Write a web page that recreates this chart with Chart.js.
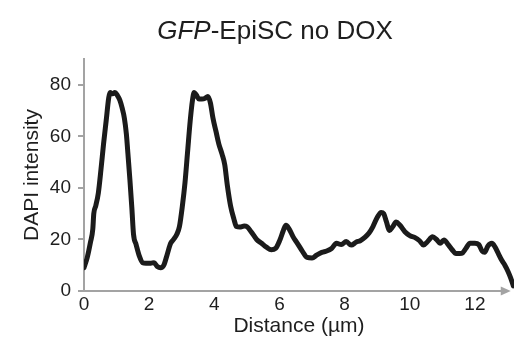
<!DOCTYPE html>
<html>
<head>
<meta charset="utf-8">
<script src="https://cdn.jsdelivr.net/npm/chart.js@4"></script>
<style>
  html, body { margin: 0; padding: 0; background: #fff; }
  #wrap { width: 516px; height: 345px; position: relative; }
</style>
</head>
<body>
<div id="wrap"><canvas id="profileChart"></canvas></div>
<script>
    // Line profile data
    const distance = [0, 0.1, 0.2, 0.27, 0.3, 0.36, 0.44, 0.52, 0.6, 0.68, 0.76, 0.8, 0.88, 0.95, 1.02, 1.1,
        1.17, 1.24, 1.3, 1.35, 1.41, 1.47, 1.52, 1.6, 1.7, 1.8, 1.9, 2.05, 2.15, 2.25, 2.35, 2.45, 2.55,
        2.66, 2.75, 2.85, 2.93, 3.02, 3.1, 3.18, 3.26, 3.33, 3.38, 3.45, 3.53, 3.62, 3.72, 3.8, 3.88, 3.96,
        4.05, 4.14, 4.24, 4.32, 4.4, 4.5, 4.6, 4.68, 4.78, 4.92, 5.0, 5.13, 5.3, 5.45, 5.6, 5.75, 5.88,
        6.02, 6.12, 6.2, 6.3, 6.42, 6.55, 6.7, 6.85, 7.0, 7.15, 7.3, 7.45, 7.6, 7.75, 7.9, 8.05, 8.2,
        8.36, 8.48, 8.62, 8.75, 8.87, 9.0, 9.12, 9.2, 9.28, 9.38, 9.48, 9.58, 9.7, 9.85, 10.0, 10.15,
        10.3, 10.42, 10.55, 10.7, 10.82, 10.93, 11.05, 11.18, 11.3, 11.42, 11.6, 11.72, 11.85, 12.0,
        12.12, 12.22, 12.3, 12.4, 12.52, 12.62, 12.72, 12.82, 12.92, 13.02, 13.1, 13.18];
    const intensity = [9, 13, 19, 24, 30, 33, 38, 47, 57, 66, 75, 77, 76.5, 77, 76, 74,
        71, 67, 61, 53, 43, 32, 22, 18, 13.5, 11, 10.8, 10.8, 11, 9.5, 9, 10, 14,
        18.5, 20, 22, 25, 33, 42, 54, 66, 74, 77, 76, 74.5, 74.5, 74.8, 75.5, 73, 67,
        62, 57, 53, 49, 41, 33, 28, 25, 24.8, 25.2, 25, 23, 20, 18.5, 17, 16, 16.5,
        20, 23.5, 25.5, 24, 21, 18.5, 15.5, 13, 12.8, 14, 15, 15.5, 16.5, 18.5, 18, 19.2, 17.8,
        19, 19.5, 20.8, 22.5, 25, 28.5, 30.5, 30, 27, 23.5, 25, 26.8, 25.5, 23, 21.5, 20.8,
        19.5, 17.8, 19.2, 21, 20, 18.5, 19.8, 18, 16, 14.5, 14.6, 16.5, 18.5, 18.5,
        18, 15.5, 15, 17.5, 18.5, 17, 14.5, 12, 10, 7.5, 5, 2];
    const yLabels = [0, 20, 40, 60, 80];

    const axisGray = '#a3a3a3';
    const textColor = '#1e1e1e';
    const fontFamily = 'Arial, "Liberation Sans", sans-serif';

    // Title with italic gene name, plus x axis drawn as an arrow
    const decorations = {
        id: 'decorations',
        beforeDatasetsDraw(chart) {
            const c = chart.ctx;
            const x = chart.scales.x;
            const y0 = chart.scales.y.getPixelForValue(0);
            const x0 = chart.chartArea.left - 1;
            const tip = x.getPixelForValue(13.1);
            c.save();
            c.strokeStyle = axisGray;
            c.fillStyle = axisGray;
            c.lineWidth = 2;
            c.beginPath();
            c.moveTo(x0, y0);
            c.lineTo(tip - 8, y0);
            c.stroke();
            c.beginPath();
            c.moveTo(tip, y0);
            c.lineTo(tip - 10, y0 - 4.5);
            c.lineTo(tip - 10, y0 + 4.5);
            c.closePath();
            c.fill();
            c.restore();
        },
        afterDraw(chart) {
            const c = chart.ctx;
            c.save();
            c.fillStyle = textColor;
            c.textBaseline = 'alphabetic';
            c.textAlign = 'left';
            c.font = 'italic 26px ' + fontFamily;
            const w1 = c.measureText('GFP').width;
            c.font = '26px ' + fontFamily;
            const w2 = c.measureText('-EpiSC no DOX').width;
            const start = 275 - (w1 + w2) / 2;
            c.font = 'italic 26px ' + fontFamily;
            c.fillText('GFP', start, 39);
            c.font = '26px ' + fontFamily;
            c.fillText('-EpiSC no DOX', start + w1, 39);
            c.restore();
        }
    };

    const ctx = document.getElementById('profileChart').getContext('2d');

    const profileChart = new Chart(ctx, {
        type: 'line',
        data: {
            datasets: [{
                label: 'DAPI',
                data: distance.map((d, i) => ({ x: d, y: intensity[i] })),
                borderColor: '#1b1b1b',
                borderWidth: 5,
                pointRadius: 0,
                fill: false,
                cubicInterpolationMode: 'monotone',
                borderJoinStyle: 'round',
                borderCapStyle: 'round'
            }]
        },
        options: {
            responsive: true,
            maintainAspectRatio: false,
            animation: false,
            layout: {
                padding: { top: 59, right: 2, left: 0, bottom: 0 }
            },
            plugins: {
                legend: { display: false },
                tooltip: { enabled: false }
            },
            scales: {
                x: {
                    type: 'linear',
                    min: 0,
                    max: 13.2,
                    grid: { display: false, drawTicks: false },
                    border: { display: false },
                    ticks: {
                        stepSize: 2,
                        includeBounds: false,
                        padding: 2,
                        color: textColor,
                        font: { family: fontFamily, size: 19 }
                    },
                    title: {
                        display: true,
                        text: 'Distance (\u00b5m)',
                        color: textColor,
                        font: { family: fontFamily, size: 21 },
                        padding: { top: 0, bottom: 6 }
                    },
                    afterFit: (scale) => { scale.height = 54; }
                },
                y: {
                    min: 0,
                    max: 90,
                    grid: {
                        drawOnChartArea: false,
                        drawTicks: true,
                        tickLength: 6,
                        color: axisGray,
                        lineWidth: 2
                    },
                    border: { display: true, color: axisGray, width: 2 },
                    ticks: {
                        stepSize: 10,
                        padding: 7,
                        color: textColor,
                        font: { family: fontFamily, size: 19 },
                        callback: function(value) {
                            return yLabels.includes(value) ? value : '';
                        }
                    },
                    title: {
                        display: true,
                        text: 'DAPI intensity',
                        color: textColor,
                        font: { family: fontFamily, size: 21 },
                        padding: { top: 20, bottom: 0 }
                    },
                    afterFit: (scale) => { scale.width = 84; }
                }
            }
        },
        plugins: [decorations]
    });
</script>
</body>
</html>
